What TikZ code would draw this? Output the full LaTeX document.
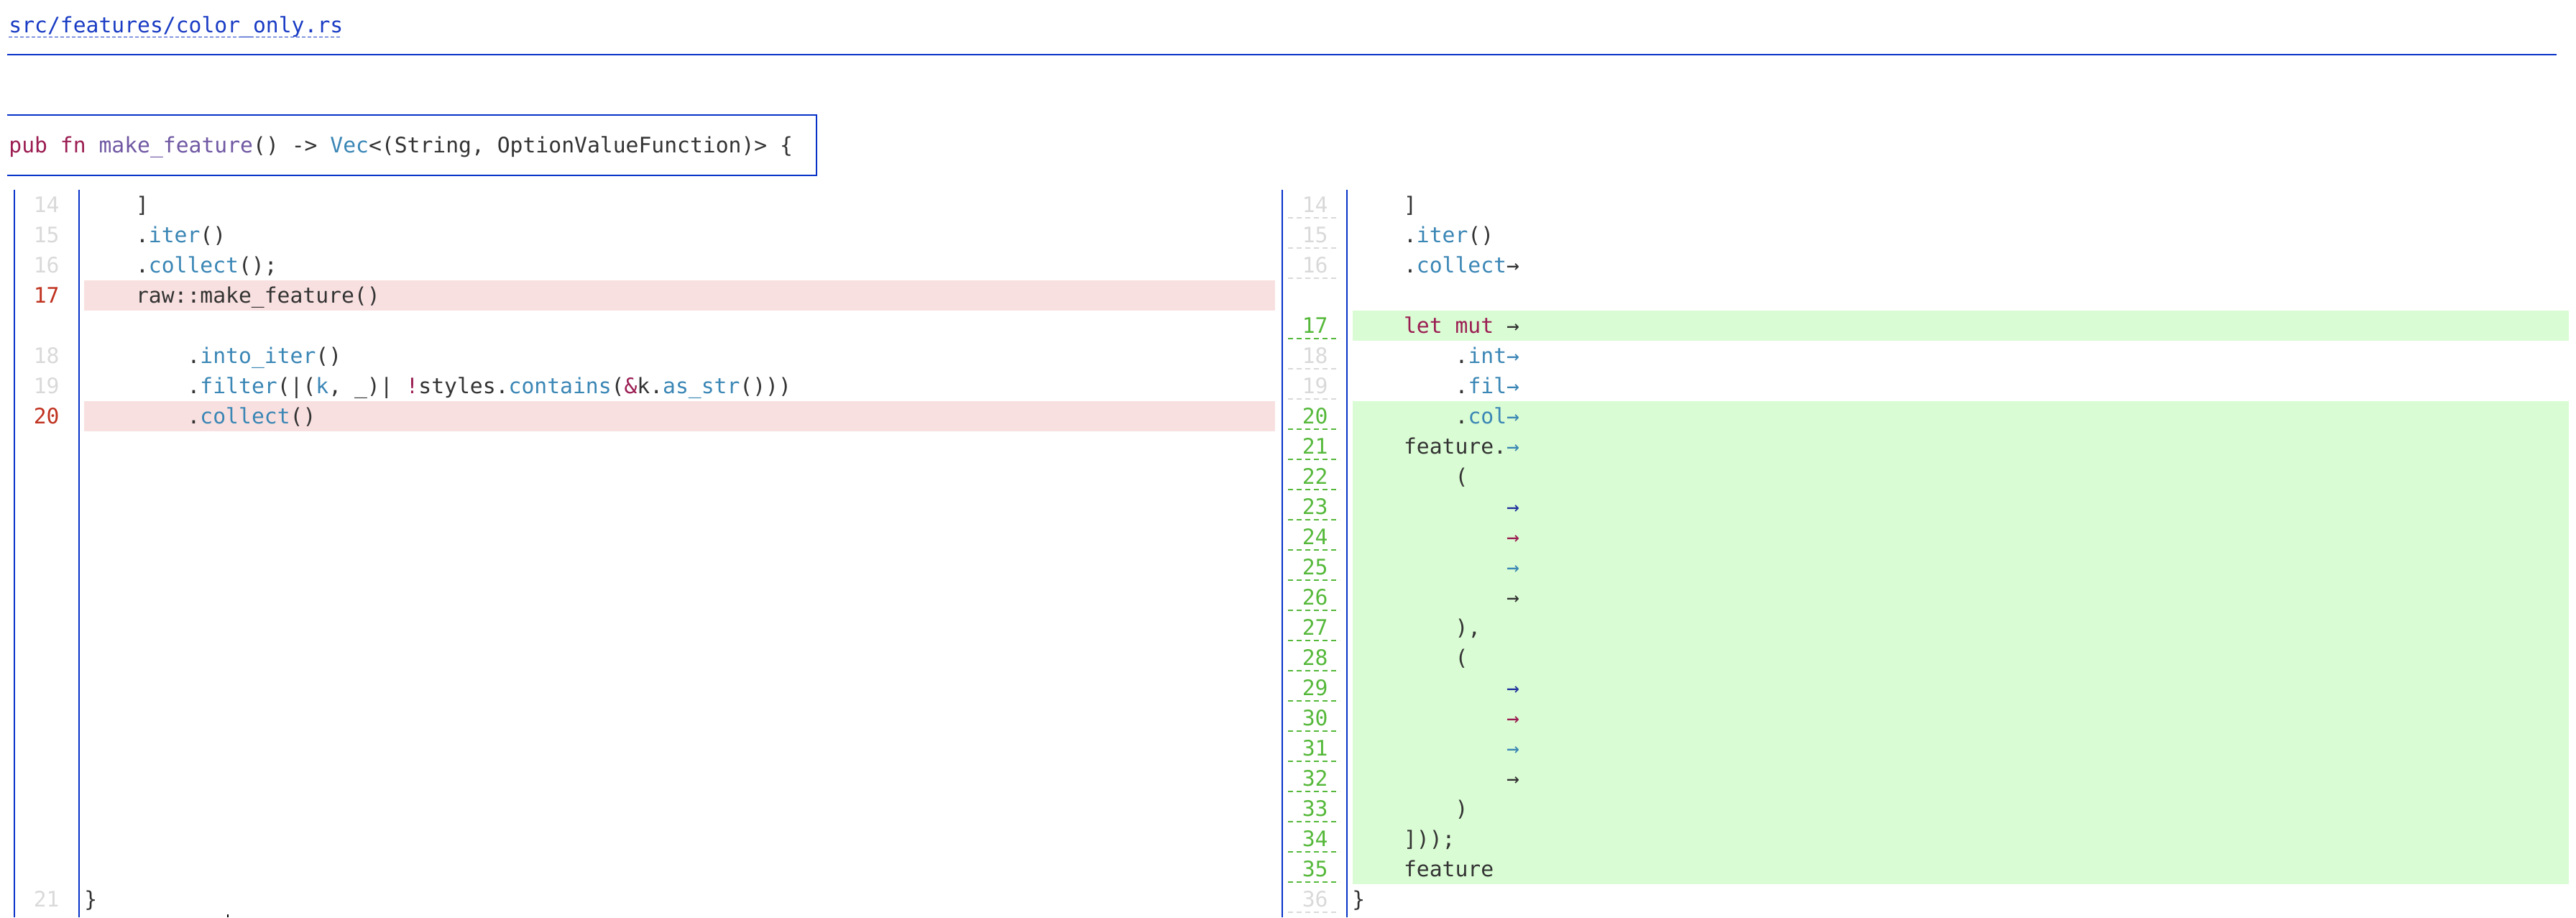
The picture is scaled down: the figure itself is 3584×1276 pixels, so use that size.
\documentclass[tikz,border=0pt]{standalone}
\usepackage{fontspec}
\setmonofont{DejaVu Sans Mono}
\usepackage{xcolor}
\definecolor{colorRule}{HTML}{0632C8}
\definecolor{colorLink}{HTML}{1A3CC4}
\definecolor{colorText}{HTML}{333333}
\definecolor{colorKeyword}{HTML}{9B1D52}
\definecolor{colorFunction}{HTML}{7058A3}
\definecolor{colorMethod}{HTML}{3A86B5}
\definecolor{colorNavy}{HTML}{22349E}
\definecolor{colorContext}{HTML}{D9D9D9}
\definecolor{colorRemoved}{HTML}{C0321F}
\definecolor{colorAdded}{HTML}{55B83A}
\definecolor{colorRemovedBg}{HTML}{F9E0E0}
\definecolor{colorAddedBg}{HTML}{DAFCD4}
\newcommand{\codefont}{\ttfamily\fontsize{14.85pt}{18pt}\selectfont}
\newcommand{\kw}[1]{\textcolor{colorKeyword}{#1}}
\newcommand{\mt}[1]{\textcolor{colorMethod}{#1}}
\usepackage{tikz}

\begin{document}
\begin{tikzpicture}[x=0.5pt, y=-0.5pt,
  code/.style={anchor=base west, inner sep=0pt, font=\codefont, text=colorText},
  lnum/.style={anchor=base east, inner sep=0pt, font=\codefont},
  rule/.style={draw=colorRule, line width=1pt},
  numline/.style={line width=1pt, dash pattern=on 3.5pt off 2.5pt}]
\useasboundingbox (0,0) rectangle (3584,1276);

% file name and header
\node[code, text=colorLink] (file) at (12,45) {src/features/color\_only.rs};
\draw[colorLink, line width=0.5pt, dash pattern=on 2.3pt off 1.7pt] (12,51) -- (476,51);
\draw[rule] (10,76) -- (3557,76);
\draw[rule] (10,160) -- (1136,160) -- (1136,244) -- (10,244);
\node[code] (head) at (12,212) {\kw{pub fn} \textcolor{colorFunction}{make\_feature}() -> \mt{Vec}<(String, OptionValueFunction)> \{};

% highlighted rows
\fill[colorRemovedBg] (117,390) rectangle (1774,432);
\fill[colorRemovedBg] (117,558) rectangle (1774,600);
\fill[colorAddedBg] (1882,432) rectangle (3574,474);
\fill[colorAddedBg] (1882,558) rectangle (3574,1230);

% gutters
\draw[rule] (20,264) -- (20,1276);
\draw[rule] (110,264) -- (110,1276);
\draw[rule] (1784,264) -- (1784,1276);
\draw[rule] (1874,264) -- (1874,1276);

% old side
\node[lnum, text=colorContext] (o14) at (83,295) {14};
\node[lnum, text=colorContext] (o15) at (83,337) {15};
\node[lnum, text=colorContext] (o16) at (83,379) {16};
\node[lnum, text=colorRemoved] (o17) at (83,421) {17};
\node[lnum, text=colorContext] (o18) at (83,505) {18};
\node[lnum, text=colorContext] (o19) at (83,547) {19};
\node[lnum, text=colorRemoved] (o20) at (83,589) {20};
\node[lnum, text=colorContext] (o21) at (83,1261) {21};
\node[code] (oc14) at (188.6,295) {]};
\node[code] (oc15) at (188.6,337) {.\mt{iter}()};
\node[code] (oc16) at (188.6,379) {.\mt{collect}();};
\node[code] (oc17) at (188.6,421) {raw::make\_feature()};
\node[code] (oc18) at (260.2,505) {.\mt{into\_iter}()};
\node[code] (oc19) at (260.2,547) {.\mt{filter}(|(\mt{k}, \_)| \kw{!}styles.\mt{contains}(\kw{\&}k.\mt{as\_str}()))};
\node[code] (oc20) at (260.2,589) {.\mt{collect}()};
\node[code] (oc21) at (117,1261) {\}};
\fill[black] (316,1272) rectangle (318,1276);

% new side
\node[lnum, text=colorContext] (n14) at (1848,295) {14};
\node[lnum, text=colorContext] (n15) at (1848,337) {15};
\node[lnum, text=colorContext] (n16) at (1848,379) {16};
\node[lnum, text=colorAdded] (n17) at (1848,463) {17};
\node[lnum, text=colorContext] (n18) at (1848,505) {18};
\node[lnum, text=colorContext] (n19) at (1848,547) {19};
\node[lnum, text=colorContext] (n36) at (1848,1261) {36};
\foreach \y in {303,345,387,513,555,1269}
  \draw[numline, colorContext] (1792,\y) -- (1864,\y);
\draw[numline, colorAdded] (1792,471) -- (1864,471);
\foreach \n in {20,...,35} {
  \node[lnum, text=colorAdded] (n\n) at (1848,{295+(\n-13)*42}) {\n};
  \draw[numline, colorAdded] (1792,{303+(\n-13)*42}) -- (1864,{303+(\n-13)*42});
}
\node[code] (nc14) at (1952.6,295) {]};
\node[code] (nc15) at (1952.6,337) {.\mt{iter}()};
\node[code] (nc16) at (1952.6,379) {.\mt{collect}→};
\node[code] (nc17) at (1952.6,463) {\kw{let mut} →};
\node[code] (nc18) at (2024.2,505) {.\mt{int→}};
\node[code] (nc19) at (2024.2,547) {.\mt{fil→}};
\node[code] (nc20) at (2024.2,589) {.\mt{col→}};
\node[code] (nc21) at (1952.6,631) {feature.\mt{→}};
\node[code] (nc22) at (2024.2,673) {(};
\node[code, text=colorNavy] (nc23) at (2095.8,715) {→};
\node[code, text=colorKeyword] (nc24) at (2095.8,757) {→};
\node[code, text=colorMethod] (nc25) at (2095.8,799) {→};
\node[code] (nc26) at (2095.8,841) {→};
\node[code] (nc27) at (2024.2,883) {),};
\node[code] (nc28) at (2024.2,925) {(};
\node[code, text=colorNavy] (nc29) at (2095.8,967) {→};
\node[code, text=colorKeyword] (nc30) at (2095.8,1009) {→};
\node[code, text=colorMethod] (nc31) at (2095.8,1051) {→};
\node[code] (nc32) at (2095.8,1093) {→};
\node[code] (nc33) at (2024.2,1135) {)};
\node[code] (nc34) at (1952.6,1177) {]));};
\node[code] (nc35) at (1952.6,1219) {feature};
\node[code] (nc36) at (1881,1261) {\}};
\end{tikzpicture}
\end{document}
